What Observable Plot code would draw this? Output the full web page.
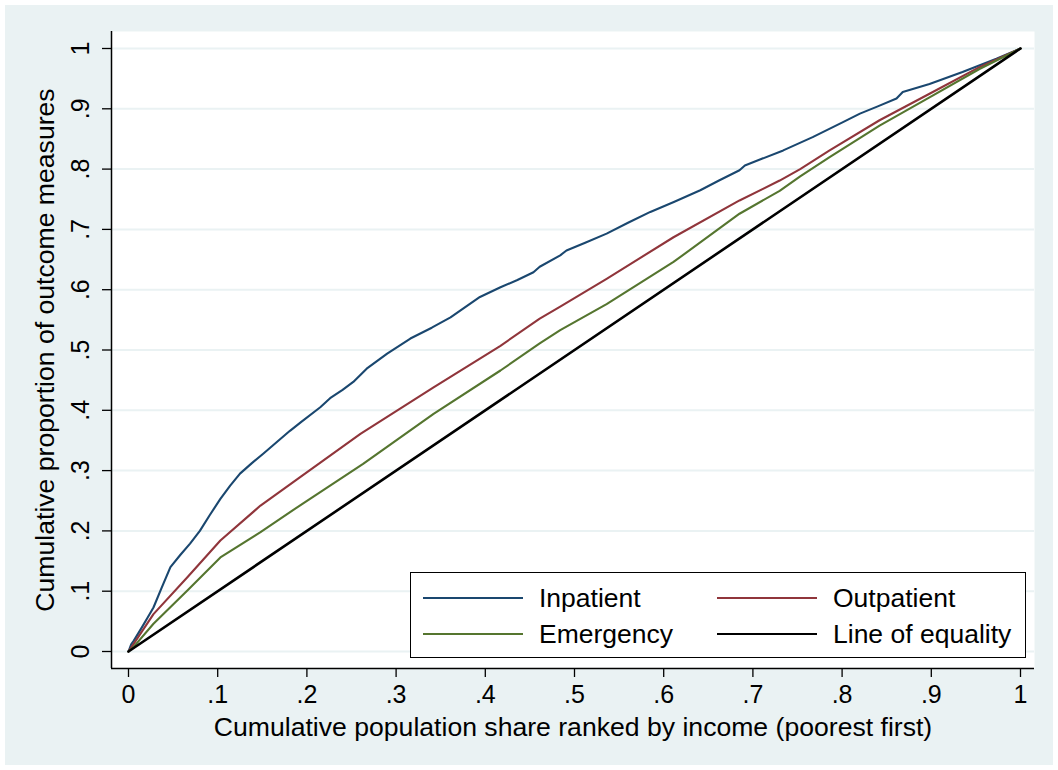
<!DOCTYPE html>
<html>
<head>
<meta charset="utf-8">
<script src="https://cdn.jsdelivr.net/npm/d3@7"></script>
<script src="https://cdn.jsdelivr.net/npm/@observablehq/plot@0.6"></script>
<style>
  html, body { margin: 0; padding: 0; background: #fff; }
  #wrap { position: relative; width: 1058px; height: 770px; }
  #wrap > svg { display: block; box-shadow: inset 0 0 0 5px #fff; }
  #legend {
    position: absolute; left: 410px; top: 572px; width: 614px; height: 84px;
    border: 1.5px solid #000; background: #fff;
    font-family: "Liberation Sans", Arial, sans-serif; font-size: 26.5px; color: #000;
  }
  .item { position: absolute; height: 30px; display: flex; align-items: center; white-space: nowrap; }
  .item svg { display: block; margin-right: 16px; }
</style>
</head>
<body>
<div id="wrap"><div id="legend"></div></div>
<script>
// ---- data ----
const seriesNames = ["Inpatient", "Outpatient", "Emergency", "Line of equality"];
const seriesColors = ["#1a476f", "#90353b", "#55752f", "#000000"];

const inpatientX = [0, 0.003, 0.006, 0.015, 0.021, 0.028, 0.037, 0.047, 0.058, 0.069, 0.08, 0.091, 0.103, 0.114, 0.125, 0.138, 0.151, 0.166, 0.181, 0.193, 0.215, 0.226, 0.24, 0.252, 0.267, 0.29, 0.316, 0.34, 0.361, 0.394, 0.417, 0.436, 0.454, 0.461, 0.484, 0.491, 0.512, 0.536, 0.56, 0.585, 0.612, 0.641, 0.662, 0.685, 0.691, 0.71, 0.734, 0.767, 0.801, 0.82, 0.84, 0.861, 0.868, 0.898, 0.935, 0.973, 1];
const inpatientY = [0, 0.012, 0.018, 0.04, 0.055, 0.073, 0.105, 0.14, 0.16, 0.179, 0.2, 0.226, 0.253, 0.275, 0.295, 0.312, 0.328, 0.347, 0.366, 0.38, 0.405, 0.42, 0.434, 0.447, 0.469, 0.494, 0.519, 0.537, 0.554, 0.588, 0.604, 0.616, 0.629, 0.638, 0.657, 0.665, 0.678, 0.693, 0.711, 0.729, 0.746, 0.765, 0.781, 0.798, 0.806, 0.817, 0.831, 0.853, 0.878, 0.892, 0.904, 0.917, 0.928, 0.941, 0.961, 0.983, 1];

const outpatientX = [0, 0.006, 0.028, 0.066, 0.103, 0.148, 0.194, 0.26, 0.342, 0.417, 0.461, 0.484, 0.536, 0.611, 0.685, 0.73, 0.753, 0.786, 0.842, 0.898, 0.954, 1];
const outpatientY = [0, 0.013, 0.062, 0.123, 0.184, 0.242, 0.291, 0.361, 0.438, 0.507, 0.552, 0.572, 0.618, 0.687, 0.748, 0.781, 0.8, 0.831, 0.881, 0.925, 0.969, 1];

const emergencyX = [0, 0.006, 0.028, 0.066, 0.103, 0.148, 0.195, 0.263, 0.342, 0.417, 0.461, 0.484, 0.536, 0.611, 0.685, 0.73, 0.753, 0.786, 0.842, 0.898, 0.954, 1];
const emergencyY = [0, 0.008, 0.046, 0.101, 0.156, 0.198, 0.245, 0.311, 0.394, 0.466, 0.511, 0.533, 0.576, 0.646, 0.726, 0.764, 0.788, 0.82, 0.872, 0.919, 0.966, 1];

const equalityX = [0, 1];
const equalityY = [0, 1];

const xTicks = [0, 0.1, 0.2, 0.3, 0.4, 0.5, 0.6, 0.7, 0.8, 0.9, 1];
const yTicks = [0, 0.1, 0.2, 0.3, 0.4, 0.5, 0.6, 0.7, 0.8, 0.9, 1];
const xTitle = "Cumulative population share ranked by income (poorest first)";
const yTitle = "Cumulative proportion of outcome measures";

// ---- build ----
const toRows = (xs, ys) => xs.map((x, i) => ({x, y: ys[i]}));
const series = [
  toRows(inpatientX, inpatientY),
  toRows(outpatientX, outpatientY),
  toRows(emergencyX, emergencyY),
  toRows(equalityX, equalityY)
];
const fmt = d => d === 0 ? "0" : d === 1 ? "1" : d3.format(".1f")(d).replace(/^0/, "");
const font = "Liberation Sans, Arial, sans-serif";

const chart = Plot.plot({
  width: 1058,
  height: 770,
  marginLeft: 111,
  marginRight: 24,
  marginTop: 31,
  marginBottom: 102,
  x: {domain: [0, 1], insetLeft: 17, insetRight: 14},
  y: {domain: [0, 1], insetTop: 17, insetBottom: 17},
  style: {background: "#eaf2f3", fontFamily: font, color: "#000", overflow: "visible"},
  marks: [
    Plot.frame({fill: "#fff", stroke: null}),
    Plot.gridY(yTicks, {stroke: "#eaf2f3", strokeOpacity: 1, strokeWidth: 2}),
    Plot.axisY(yTicks, {tickSize: 9, tickFormat: () => "", label: null, strokeWidth: 1.3}),
    Plot.text(yTicks, {y: d => d, text: fmt, frameAnchor: "left", dx: -31, rotate: -90,
      fontSize: 25, textAnchor: "middle", lineAnchor: "middle", fill: "#000"}),
    Plot.axisX(xTicks, {tickSize: 9, tickPadding: 8, tickFormat: fmt, fontSize: 25, label: null, strokeWidth: 1.3}),
    Plot.ruleX([0], {dx: -17, stroke: "#000", strokeWidth: 1.5}),
    Plot.ruleY([0], {dy: 17, stroke: "#000", strokeWidth: 1.5}),
    ...series.map((rows, i) => Plot.line(rows, {
      x: "x", y: "y", stroke: seriesColors[i], strokeWidth: i === 3 ? 2.6 : 2.1,
      strokeLinejoin: "round", strokeLinecap: "round"
    })),
    Plot.text([yTitle], {text: d => d, frameAnchor: "left", dx: -66, rotate: -90, fontSize: 26.6,
      textAnchor: "middle", lineAnchor: "middle", fill: "#000"}),
    Plot.text([xTitle], {text: d => d, frameAnchor: "bottom", dy: 59, fontSize: 26.6,
      textAnchor: "middle", lineAnchor: "middle", fill: "#000"})
  ]
});
const wrap = document.getElementById("wrap");
wrap.insertBefore(chart, wrap.firstChild);

// ---- legend (inside plot area, bottom right) ----
const legend = d3.select("#legend");
const pos = [
  {left: 12, top: 10}, {left: 306, top: 10},
  {left: 12, top: 46}, {left: 306, top: 46}
];
seriesNames.forEach((name, i) => {
  const it = legend.append("div").attr("class", "item")
    .style("left", pos[i].left + "px").style("top", pos[i].top + "px");
  const s = it.append("svg").attr("width", 100).attr("height", 10);
  s.append("line").attr("x1", 0).attr("x2", 100).attr("y1", 5).attr("y2", 5)
    .attr("stroke", seriesColors[i]).attr("stroke-width", 2.2);
  it.append("span").text(name);
});
</script>
</body>
</html>
